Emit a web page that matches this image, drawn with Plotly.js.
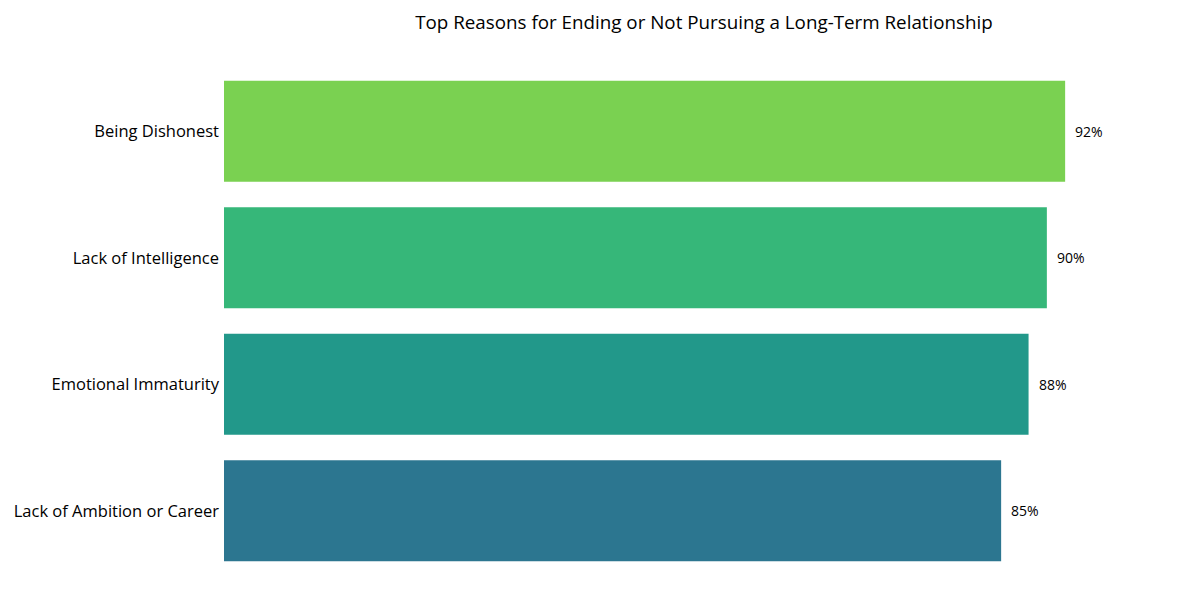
<!DOCTYPE html>
<html>
<head>
<meta charset="utf-8">
<script src="https://cdn.plot.ly/plotly-3.0.1.min.js"></script>
<style>html,body{margin:0;padding:0;background:#fff;}</style>
</head>
<body>
<div id="chart" style="width:1200px;height:600px;"></div>
<script>
const categories = ["Lack of Ambition or Career", "Emotional Immaturity", "Lack of Intelligence", "Being Dishonest"];
const values = [85, 88, 90, 92];
const colors = ["#2C7690", "#22988A", "#36B779", "#7AD151"];
const labels = values.map(v => v + "%");

const FONT = "'Open Sans', sans-serif";

const trace = {
  type: "bar",
  orientation: "h",
  y: categories,
  x: values,
  marker: {color: colors},
  hoverinfo: "none"
};

const annotations = categories.map((c, i) => ({
  x: values[i], y: c, xref: "x", yref: "y",
  text: labels[i], showarrow: false,
  xanchor: "left", yanchor: "middle", xshift: 8,
  font: {family: FONT, size: 14, color: "#000"}
}));

const layout = {
  width: 1200,
  height: 600,
  paper_bgcolor: "#fff",
  plot_bgcolor: "#fff",
  font: {family: FONT, color: "#000"},
  title: {text: "Top Reasons for Ending or Not Pursuing a Long-Term Relationship", font: {family: FONT, size: 18.8, color: "#000"}, x: 0.5, xref: "paper", y: 0.963, yanchor: "middle"},
  margin: {l: 224, r: 16, t: 68, b: 26},
  bargap: 0.2,
  xaxis: {range: [0, 105], visible: false, showgrid: false, zeroline: false},
  yaxis: {showgrid: false, zeroline: false, showline: false, ticks: "", tickfont: {family: FONT, size: 16.5, color: "#000"}, ticklabelstandoff: 4},
  annotations: annotations,
  showlegend: false
};

Plotly.newPlot("chart", [trace], layout, {displayModeBar: false, staticPlot: true});
</script>
</body>
</html>
